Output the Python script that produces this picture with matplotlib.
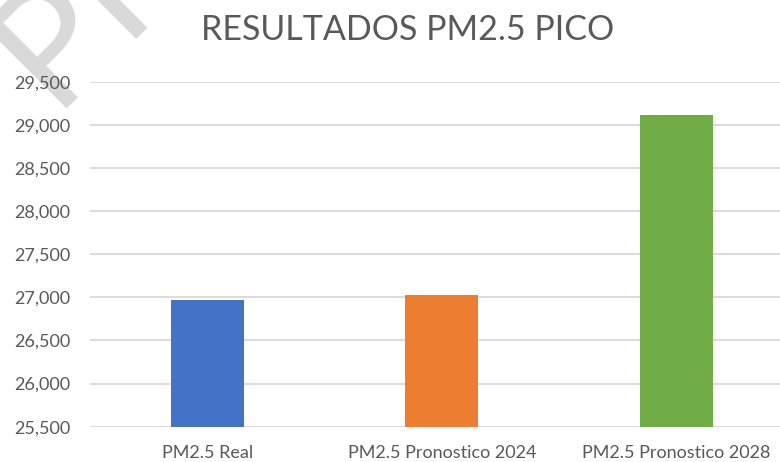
import matplotlib
matplotlib.use("Agg")
import matplotlib.pyplot as plt
from matplotlib.ticker import FuncFormatter

# Data
categories = ["PM2.5 Real", "PM2.5 Pronostico 2024", "PM2.5 Pronostico 2028"]
values = [26970, 27024, 29112]
colors = ["#4472C4", "#ED7D31", "#70AD47"]
yticks = [25500, 26000, 26500, 27000, 27500, 28000, 28500, 29000, 29500]

plt.rcParams['font.family'] = ['Lato', 'DejaVu Sans']
text_col = "#595959"
grid_col = "#d9d9d9"

fig = plt.figure(figsize=(7.8, 4.62), dpi=100)
ax = fig.add_axes([90 / 780, 1 - 426.7 / 462, 703.5 / 780, (426.7 - 81.7) / 462])
ax.patch.set_alpha(0)

x = range(len(categories))
ax.bar(x, values, width=0.31, color=colors, zorder=3)

ax.set_xlim(-0.5, 2.5)
ax.set_ylim(yticks[0], yticks[-1])
ax.set_yticks(yticks)
ax.yaxis.set_major_formatter(FuncFormatter(lambda v, p: f"{v:,.0f}"))
ax.set_xticks(list(x))
ax.set_xticklabels(categories)

ax.grid(axis='y', color=grid_col, linewidth=1.3, zorder=0)
for s in ax.spines.values():
    s.set_visible(False)
ax.tick_params(axis='both', length=0, colors=text_col, labelsize=13)
ax.tick_params(axis='y', pad=14)
ax.tick_params(axis='x', pad=13)

fig.text(408 / 780, 1 - 30 / 462, "RESULTADOS PM2.5 PICO", ha='center', va='center',
         fontsize=24.5, color=text_col)

# faint watermark in the top-left corner
fig.text(52 / 780, 1 - 108 / 462, "PR", rotation=45, rotation_mode='anchor',
         ha='left', va='baseline', fontsize=118, color="#d9d9d9", zorder=-1)

fig.savefig("out.png", dpi=100)
